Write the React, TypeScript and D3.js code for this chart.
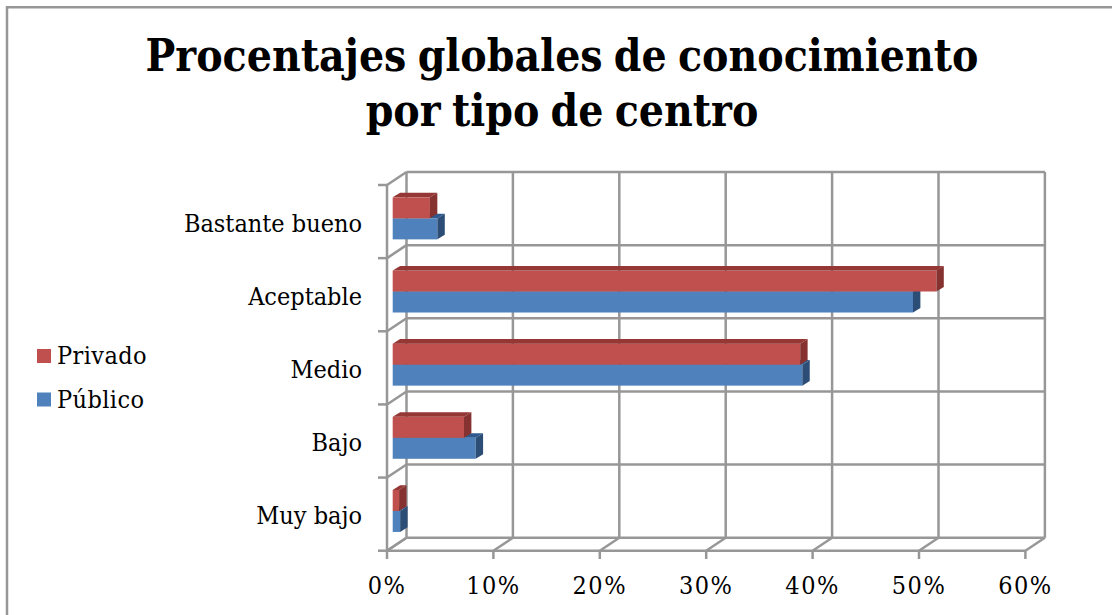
import React from "react";
import * as d3 from "d3";

const categories = ["Bastante bueno", "Aceptable", "Medio", "Bajo", "Muy bajo"];
const privado = [3.5, 51.1, 38.3, 6.7, 0.6];
const publico = [4.2, 48.9, 38.5, 7.8, 0.7];
const xTicks = [0, 10, 20, 30, 40, 50, 60];
const titleLines = ["Procentajes globales de conocimiento", "por tipo de centro"];
const legendNames = ["Privado", "Público"];

const GRID = "#979797";
const FONT = "'DejaVu Serif Condensed', 'DejaVu Serif', serif";
const RED = { front: "#c0504d", top: "#953735", side: "#863230" };
const BLUE = { front: "#4f81bd", top: "#2f5a8f", side: "#2c4d75" };

export default function App() {
  const x = d3.scaleLinear().domain([0, 60]).range([387, 1025.4]);
  const y = d3.scaleBand().domain(categories).range([185, 550.7]);
  const dx = 19.5;
  const dy = -13;
  const barShift = 5.7;
  const bdx = 7.4;
  const bdy = -4.6;
  const barH = 21;
  const catTicks = [...categories.map((c) => y(c)!), 550.7];

  const bar = (c: string, v: number, row: number, col: typeof RED) => {
    const center = y(c)! + y.bandwidth() / 2 - 3.2;
    const top = center - barH + row * barH;
    const x0 = x(0) + barShift;
    const x1 = x(v) + barShift;
    return (
      <g key={c + row}>
        <rect x={x0} y={top} width={x1 - x0} height={barH} fill={col.front} />
        <polygon
          points={`${x0},${top} ${x0 + bdx},${top + bdy} ${x1 + bdx},${top + bdy} ${x1},${top}`}
          fill={col.top}
        />
        <polygon
          points={`${x1},${top} ${x1 + bdx},${top + bdy} ${x1 + bdx},${top + barH + bdy} ${x1},${top + barH}`}
          fill={col.side}
        />
      </g>
    );
  };

  return (
    <svg
      width={1112}
      height={615}
      style={{ position: "absolute", left: 0, top: 0, background: "#fff" }}
      fontFamily={FONT}
    >
      <path d="M7,615 V7.2 H1112" fill="none" stroke={GRID} strokeWidth={2.5} />
      {titleLines.map((t, i) => (
        <text
          key={t}
          x={562}
          y={70.5 + i * 55}
          textAnchor="middle"
          fontSize={44}
          fontWeight="bold"
          wordSpacing={-2.5}
          fill="#000"
        >
          {t}
        </text>
      ))}
      <g stroke={GRID} strokeWidth={2.5} fill="none">
        {xTicks.map((t) => (
          <g key={t}>
            <line x1={x(t) + dx} x2={x(t) + dx} y1={185 + dy} y2={550.7 + dy} />
            <line x1={x(t)} x2={x(t) + dx} y1={550.7} y2={550.7 + dy} />
            <line x1={x(t)} x2={x(t)} y1={550.7} y2={559} />
          </g>
        ))}
        {catTicks.map((t) => (
          <g key={t}>
            <line x1={x(0) + dx} x2={x(60) + dx} y1={t + dy} y2={t + dy} />
            <line x1={x(0)} x2={x(0) + dx} y1={t} y2={t + dy} />
            <line x1={378} x2={x(0)} y1={t} y2={t} />
          </g>
        ))}
        <line x1={x(0)} x2={x(0)} y1={185} y2={550.7} />
        <line x1={x(0)} x2={x(60)} y1={550.7} y2={550.7} />
      </g>
      {categories.map((c, i) => (
        <g key={c}>
          {bar(c, publico[i], 1, BLUE)}
          {bar(c, privado[i], 0, RED)}
        </g>
      ))}
      {categories.map((c) => (
        <text key={c} x={362} y={y(c)! + y.bandwidth() / 2 + 10} textAnchor="end" fontSize={25} fill="#000">
          {c}
        </text>
      ))}
      {xTicks.map((t) => (
        <text key={t} x={x(t)} y={594} textAnchor="middle" fontSize={25} letterSpacing={1.5} fill="#000">
          {t}%
        </text>
      ))}
      {legendNames.map((n, i) => (
        <g key={n}>
          <rect x={37} y={349 + i * 43.5} width={14} height={14} fill={i === 0 ? RED.front : BLUE.front} />
          <text x={57} y={363.5 + i * 44} fontSize={25} letterSpacing={0.4} fill="#000">
            {n}
          </text>
        </g>
      ))}
    </svg>
  );
}
